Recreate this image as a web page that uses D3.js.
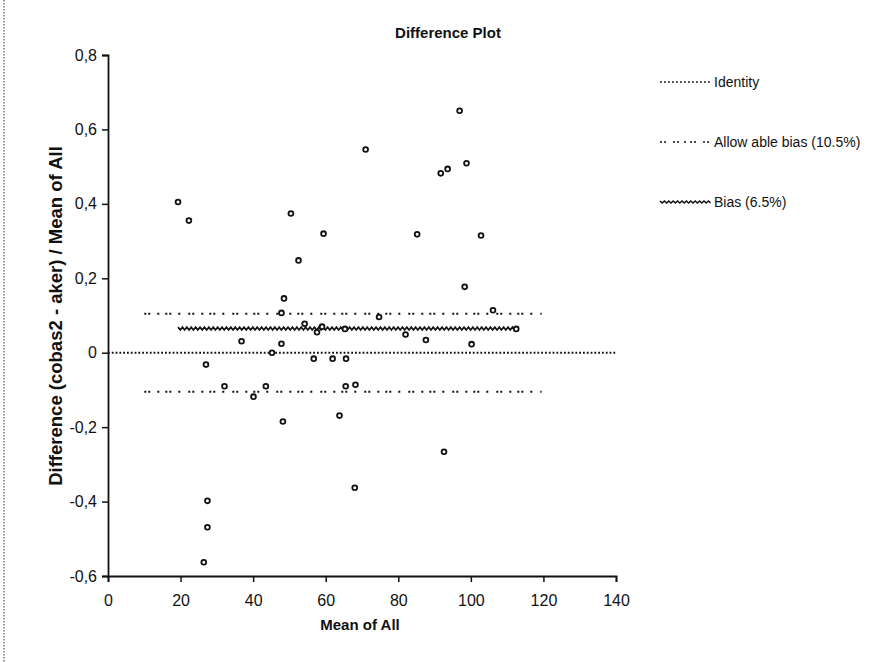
<!DOCTYPE html>
<html>
<head>
<meta charset="utf-8">
<script src="https://cdn.jsdelivr.net/npm/d3@7"></script>
<style>
  body { margin: 0; background: #fff; }
  svg { font-family: "Liberation Sans", Arial, sans-serif; }
  .tick text { font-size: 16px; fill: #111; }
  .label { font-weight: bold; fill: #111; }
  .legend text { font-size: 14px; fill: #111; }
</style>
</head>
<body>
<svg id="chart" width="884" height="662"></svg>
<script>
// Mean of all (x) and relative difference (y)
const meanOfAll = [19.3, 22.3, 27.0, 36.8, 45.2, 32.1, 40.1, 43.5, 48.5, 47.8, 47.8, 48.2,
  54.2, 57.6, 59.0, 56.7, 61.9, 65.3, 65.6, 65.5, 68.2, 63.8, 74.7, 82.0, 87.6, 71.0,
  50.4, 59.4, 52.5, 85.2, 96.9, 98.8, 93.6, 91.7, 102.8, 98.3, 106.1, 112.5, 100.2,
  92.6, 68.0, 27.4, 27.4, 26.4];
const difference = [0.405, 0.355, -0.032, 0.031, 0.0, -0.09, -0.118, -0.09, 0.146, 0.107, 0.024, -0.185,
  0.078, 0.055, 0.07, -0.016, -0.016, 0.064, -0.016, -0.09, -0.086, -0.169, 0.096, 0.049, 0.034, 0.546,
  0.374, 0.32, 0.248, 0.318, 0.65, 0.509, 0.494, 0.482, 0.315, 0.177, 0.114, 0.064, 0.023,
  -0.266, -0.363, -0.398, -0.469, -0.563];
const xTicks = [0, 20, 40, 60, 80, 100, 120, 140];
const yTicks = [-0.6, -0.4, -0.2, 0, 0.2, 0.4, 0.6, 0.8];
const identityRange = [0, 140];
const allowableBias = 0.105;
const allowableRange = [10, 119.5];
const bias = 0.065;
const biasRange = [19.3, 112.5];
const legendLabels = ["Identity", "Allow able bias (10.5%)", "Bias (6.5%)"];

const svg = d3.select("#chart");
const marginLeft = 108, marginTop = 55, plotW = 508, plotH = 521;
const chart = svg.append("g").attr("transform", `translate(${marginLeft}, ${marginTop})`);

const xScale = d3.scaleLinear().domain([0, 140]).range([0, plotW]);
const yScale = d3.scaleLinear().domain([-0.6, 0.8]).range([plotH, 0]);
// comma decimals, plain hyphen for minus
const fmt = d => d === 0 ? "0" : d3.format(".1f")(d).replace(".", ",").replace("\u2212", "-");

// left page border (dotted)
svg.append("line")
  .attr("x1", 4).attr("x2", 4).attr("y1", 0).attr("y2", 662)
  .attr("stroke", "#333").attr("stroke-width", 1).attr("stroke-dasharray", "1.5,1.5");

// Axes
const xAxis = chart.append("g")
  .attr("transform", `translate(0, ${plotH})`)
  .call(d3.axisBottom(xScale).tickValues(xTicks).tickSize(6).tickPadding(13).tickFormat(d3.format("d")));
const yAxis = chart.append("g")
  .call(d3.axisLeft(yScale).tickValues(yTicks).tickSize(6).tickPadding(5).tickFormat(fmt));
[xAxis, yAxis].forEach(a => {
  a.select(".domain").attr("stroke", "#111").attr("stroke-width", 1.8);
  a.selectAll(".tick line").attr("stroke", "#111").attr("stroke-width", 1.5);
  a.selectAll(".tick text").style("font-family", "'Liberation Sans', Arial, sans-serif");
});

// Identity line
chart.append("line")
  .attr("x1", xScale(identityRange[0])).attr("x2", xScale(identityRange[1]))
  .attr("y1", yScale(0)).attr("y2", yScale(0))
  .attr("stroke", "#111").attr("stroke-width", 2).attr("stroke-dasharray", "1.8,2");

// Allowable bias lines
const biasDash = "2,2,2,7,2,6,2,2,2,7,2,8";
[allowableBias, -allowableBias].forEach(v => {
  chart.append("line")
    .attr("x1", xScale(allowableRange[0])).attr("x2", xScale(allowableRange[1]))
    .attr("y1", yScale(v)).attr("y2", yScale(v))
    .attr("stroke", "#111").attr("stroke-width", 2).attr("stroke-dasharray", biasDash);
});

// Wavy line helper
function wavy(x0, x1, y, amp, step) {
  const pts = [];
  let i = 0;
  for (let x = x0; x <= x1; x += step, i++) pts.push([x, y + (i % 2 ? amp : -amp)]);
  return d3.line()(pts);
}

// Bias line
chart.append("path")
  .attr("d", wavy(xScale(biasRange[0]), xScale(biasRange[1]), yScale(bias), 1.4, 2.2))
  .attr("fill", "none").attr("stroke", "#111").attr("stroke-width", 1.7);

// Points
chart.selectAll("circle.pt")
  .data(d3.zip(meanOfAll, difference))
  .enter()
  .append("circle")
  .attr("class", "pt")
  .attr("cx", d => xScale(d[0]))
  .attr("cy", d => yScale(d[1]))
  .attr("r", 2.4)
  .attr("fill", "#fff")
  .attr("stroke", "#111")
  .attr("stroke-width", 1.8);

// Titles
svg.append("text").attr("class", "label")
  .attr("x", 448).attr("y", 38).attr("text-anchor", "middle")
  .style("font-size", "15px")
  .text("Difference Plot");
svg.append("text").attr("class", "label")
  .attr("x", 360).attr("y", 630).attr("text-anchor", "middle")
  .style("font-size", "15px")
  .text("Mean of All");
svg.append("text").attr("class", "label")
  .attr("transform", `translate(62, 316) rotate(-90)`)
  .attr("text-anchor", "middle")
  .style("font-size", "18.5px")
  .text("Difference (cobas2 - aker) / Mean of All");

// Legend
const legend = svg.append("g").attr("class", "legend").attr("transform", "translate(660, 82)");
const legendRows = legend.selectAll("g")
  .data(legendLabels)
  .enter()
  .append("g")
  .attr("transform", (d, i) => `translate(0, ${i * 60})`);
legendRows.each(function(d, i) {
  const g = d3.select(this);
  if (i === 2) {
    g.append("path").attr("d", wavy(0, 52, 0, 1.1, 2.2))
      .attr("fill", "none").attr("stroke", "#111").attr("stroke-width", 1.4);
  } else {
    g.append("line").attr("x1", 0).attr("x2", 52).attr("y1", 0).attr("y2", 0)
      .attr("stroke", "#111").attr("stroke-width", 1.7)
      .attr("stroke-dasharray", i === 0 ? "1.8,2.2" : "2,2,2,7,2,2,2,5,2,4");
  }
  g.append("text").attr("x", 54).attr("y", 5).text(d);
});
</script>
</body>
</html>
